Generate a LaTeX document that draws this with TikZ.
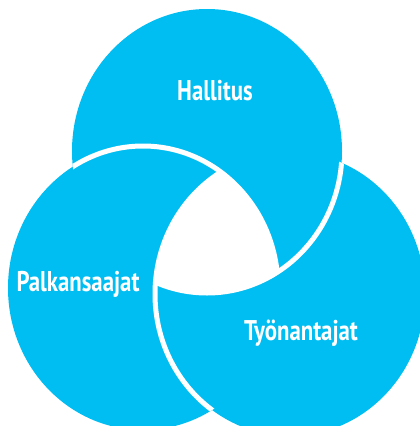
\documentclass[tikz,border=0pt]{standalone}
\usepackage{fontspec}
\newfontfamily\labfont{PT Sans}[FakeStretch=0.8]
\usepackage{tikz}
\definecolor{ringblue}{RGB}{0,189,242}

\begin{document}
\begin{tikzpicture}[
  x=1pt,y=-1pt,
  ring/.style={x radius=135pt,y radius=142pt},
  gap/.style={draw=white,line width=5pt},
  lab/.style={text=white,inner sep=0pt,anchor=base,font=\labfont\bfseries\fontsize{28.5}{30}\selectfont}
]
\useasboundingbox (0,0) rectangle (420,426);
\coordinate (hal) at (207,151);
\coordinate (pal) at (143,288);
\coordinate (tyo) at (290,294);
\fill[ringblue] (hal) ellipse[ring] (pal) ellipse[ring] (tyo) ellipse[ring];
\begin{scope}
  \clip (hal) ellipse[ring];
  \draw[gap] (pal) ellipse[ring];
\end{scope}
\begin{scope}
  \clip (tyo) ellipse[ring];
  \draw[gap] (hal) ellipse[ring];
\end{scope}
\begin{scope}
  \clip (pal) ellipse[ring];
  \draw[gap] (tyo) ellipse[ring];
\end{scope}
\begin{scope}
  \clip (hal) ellipse[ring];
  \clip (pal) ellipse[ring];
  \fill[white] (tyo) ellipse[ring];
\end{scope}
\node[lab] (hallitus) at (215,100) {Hallitus};
\node[lab] (palkan) at (78,291) {Palkansaajat};
\node[lab] (tyonant) at (301,340) {Työnantajat};
\end{tikzpicture}
\end{document}
